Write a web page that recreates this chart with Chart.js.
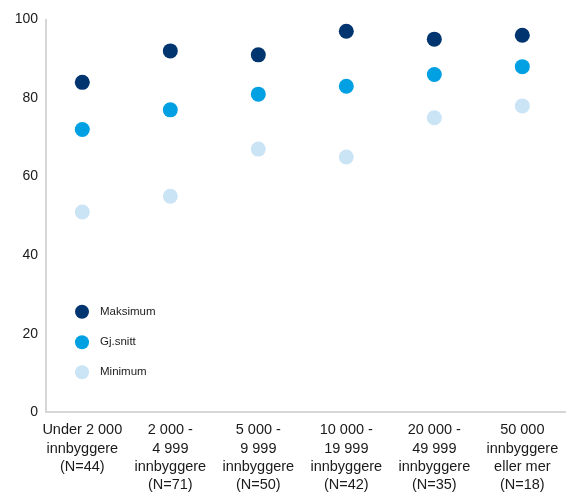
<!DOCTYPE html>
<html>
<head>
<meta charset="utf-8">
<script src="https://cdn.jsdelivr.net/npm/chart.js@4"></script>
<style>
html,body{margin:0;padding:0;background:#fff;}
#wrap{width:574px;height:493px;position:relative;}
</style>
</head>
<body>
<div id="wrap"><canvas id="c" width="574" height="493"></canvas></div>
<script>
const categories = [
  ["Under 2 000","innbyggere","(N=44)"],
  ["2 000 -","4 999","innbyggere","(N=71)"],
  ["5 000 -","9 999","innbyggere","(N=50)"],
  ["10 000 -","19 999","innbyggere","(N=42)"],
  ["20 000 -","49 999","innbyggere","(N=35)"],
  ["50 000","innbyggere","eller mer","(N=18)"]
];
const seriesNames = ["Maksimum","Gj.snitt","Minimum"];
const maksimum = [84, 92, 91, 97, 95, 96];
const gjsnitt  = [72, 77, 81, 83, 86, 88];
const minimum  = [51, 55, 67, 65, 75, 78];
const yTicks = [0, 20, 40, 60, 80, 100];

const colors = ["#00356f", "#00a0e3", "#cae4f6"];
const FONT = "'Liberation Sans', Arial, Helvetica, sans-serif";

function pts(arr){ return arr.map((v,i)=>({x:i,y:v})); }

const legendPlugin = {
  id: 'customLegend',
  afterDraw(chart){
    const ctx = chart.ctx;
    const items = chart.data.datasets;
    const ys = [311.7, 342.3, 372.3];
    ctx.save();
    items.forEach((ds, i) => {
      ctx.beginPath();
      ctx.arc(82, ys[i], 7, 0, Math.PI*2);
      ctx.fillStyle = ds.backgroundColor;
      ctx.fill();
      ctx.fillStyle = '#222';
      ctx.font = "11.5px " + FONT;
      ctx.textBaseline = 'middle';
      ctx.textAlign = 'left';
      ctx.fillText(ds.label, 100, ys[i]);
    });
    ctx.restore();
  }
};

new Chart(document.getElementById('c'), {
  type: 'scatter',
  data: {
    datasets: [
      {label: seriesNames[0], data: pts(maksimum), backgroundColor: colors[0], borderWidth: 0, pointRadius: 7.5, pointHoverRadius: 7.5},
      {label: seriesNames[1], data: pts(gjsnitt),  backgroundColor: colors[1], borderWidth: 0, pointRadius: 7.5, pointHoverRadius: 7.5},
      {label: seriesNames[2], data: pts(minimum),  backgroundColor: colors[2], borderWidth: 0, pointRadius: 7.5, pointHoverRadius: 7.5}
    ]
  },
  options: {
    responsive: false,
    animation: false,
    events: [],
    layout: { padding: { top: 19.5, right: 9, left: 0, bottom: 0 } },
    plugins: { legend: { display: false }, tooltip: { enabled: false } },
    scales: {
      x: {
        type: 'linear',
        min: -0.4125,
        max: 5.485,
        grid: { display: false, drawTicks: false },
        border: { display: true, color: '#d6d6d6', width: 2 },
        afterBuildTicks: (scale) => { scale.ticks = categories.map((_, i) => ({ value: i })); },
        afterFit: (scale) => { scale.height = 80.7; },
        ticks: {
          autoSkip: false,
          maxRotation: 0,
          minRotation: 0,
          padding: 9,
          color: '#1a1a1a',
          font: { family: FONT, size: 14.5, lineHeight: 1.26 },
          callback: (v) => categories[v]
        }
      },
      y: {
        min: 0,
        max: 100,
        grid: { display: false, drawTicks: false },
        border: { display: true, color: '#d6d6d6', width: 2 },
        afterBuildTicks: (scale) => { scale.ticks = yTicks.map(v => ({ value: v })); },
        afterFit: (scale) => { scale.width = 46; },
        ticks: {
          padding: 8,
          color: '#1a1a1a',
          font: { family: FONT, size: 14 }
        }
      }
    }
  },
  plugins: [legendPlugin]
});
</script>
</body>
</html>
